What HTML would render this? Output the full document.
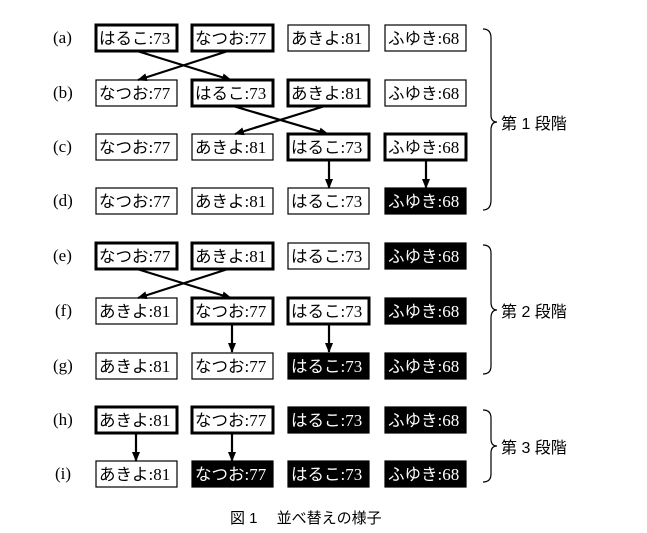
<!DOCTYPE html>
<html><head><meta charset="utf-8"><style>
html,body{margin:0;padding:0;background:#fff;}
svg{display:block;}
text{font-family:"Liberation Serif","Noto Sans CJK JP",serif;}
.j{font-family:"Liberation Sans","Noto Sans CJK JP",sans-serif;}
</style></head><body>
<svg width="647" height="533" viewBox="0 0 647 533" xmlns="http://www.w3.org/2000/svg">
<defs><marker id="ah" markerWidth="10" markerHeight="8" refX="9" refY="4" orient="auto" markerUnits="userSpaceOnUse"><path d="M0,0 L10,4 L0,8 Z" fill="#000"/></marker></defs>
<g id="boxes"></g>
<g stroke="#000" stroke-width="2.2" fill="none" marker-end="url(#ah)">
<line x1="137" y1="51" x2="231" y2="80"/>
<line x1="228" y1="51" x2="138" y2="80"/>
<line x1="233" y1="106" x2="328" y2="134"/>
<line x1="325" y1="106" x2="235" y2="134"/>
<line x1="329" y1="160" x2="329" y2="188"/>
<line x1="426" y1="160" x2="426" y2="188"/>
<line x1="137" y1="269" x2="231" y2="298"/>
<line x1="228" y1="269" x2="138" y2="298"/>
<line x1="232" y1="324" x2="232" y2="352"/>
<line x1="329" y1="324" x2="329" y2="352"/>
<line x1="136" y1="433" x2="136" y2="461"/>
<line x1="232" y1="433" x2="232" y2="461"/>
</g>
<g stroke="#000" stroke-width="1.2" fill="none">
<path d="M483,29 Q491,29 491,38 L491,115 Q491,122 497,122 Q491,122 491,130 L491,200 Q491,210 483,210"/>
<path d="M483,245 Q491,245 491,253 L491,302 Q491,310 497,310 Q491,310 491,318 L491,366 Q491,374 483,374"/>
<path d="M483,410 Q491,410 491,418 L491,439 Q491,446 497,446 Q491,446 491,453 L491,474 Q491,482 483,482"/>
</g>
<text x="501" y="129" class="j" font-size="16">第 1 段階</text>
<text x="501" y="317" class="j" font-size="16">第 2 段階</text>
<text x="501" y="453" class="j" font-size="16">第 3 段階</text>
<text x="230" y="523" class="j" font-size="15">図 1　 並べ替えの様子</text>
<g font-size="17" fill="#000">
<text x="53" y="43">(a)</text><text x="53" y="98">(b)</text><text x="53" y="152">(c)</text>
<text x="53" y="206">(d)</text><text x="53" y="261">(e)</text><text x="55" y="316">(f)</text>
<text x="53" y="371">(g)</text><text x="53" y="425">(h)</text><text x="55" y="479">(i)</text>
</g>
</svg>
<script>
var rows=[38,93,147,201,256,311,366,420,474];
var cols=[96,192,288,385];
var data=[
[["はるこ","73",1],["なつお","77",1],["あきよ","81",0],["ふゆき","68",0]],
[["なつお","77",0],["はるこ","73",1],["あきよ","81",1],["ふゆき","68",0]],
[["なつお","77",0],["あきよ","81",0],["はるこ","73",1],["ふゆき","68",1]],
[["なつお","77",0],["あきよ","81",0],["はるこ","73",0],["ふゆき","68",2]],
[["なつお","77",1],["あきよ","81",1],["はるこ","73",0],["ふゆき","68",2]],
[["あきよ","81",0],["なつお","77",1],["はるこ","73",1],["ふゆき","68",2]],
[["あきよ","81",0],["なつお","77",0],["はるこ","73",2],["ふゆき","68",2]],
[["あきよ","81",1],["なつお","77",1],["はるこ","73",2],["ふゆき","68",2]],
[["あきよ","81",0],["なつお","77",2],["はるこ","73",2],["ふゆき","68",2]]];
var g=document.getElementById("boxes"),h="";
data.forEach(function(r,i){r.forEach(function(c,j){
var x=cols[j],y=rows[i]-13,w=81,hh=26,t=c[2];
var sw=t==1?3:1.2,fill=t==2?"#000":"#fff",tc=t==2?"#fff":"#000";
h+='<rect x="'+x+'" y="'+y+'" width="'+w+'" height="'+hh+'" fill="'+fill+'" stroke="#000" stroke-width="'+sw+'"/>';
h+='<text x="'+(x+3)+'" y="'+(y+19)+'" fill="'+tc+'"><tspan style="font-family:\'Liberation Sans\',\'Noto Sans CJK JP\',sans-serif;font-size:16.5px">'+c[0]+'</tspan><tspan style="font-family:\'Liberation Serif\',serif;font-size:17px">:'+c[1]+'</tspan></text>';
});});
g.innerHTML=h;
</script>
</body></html>
